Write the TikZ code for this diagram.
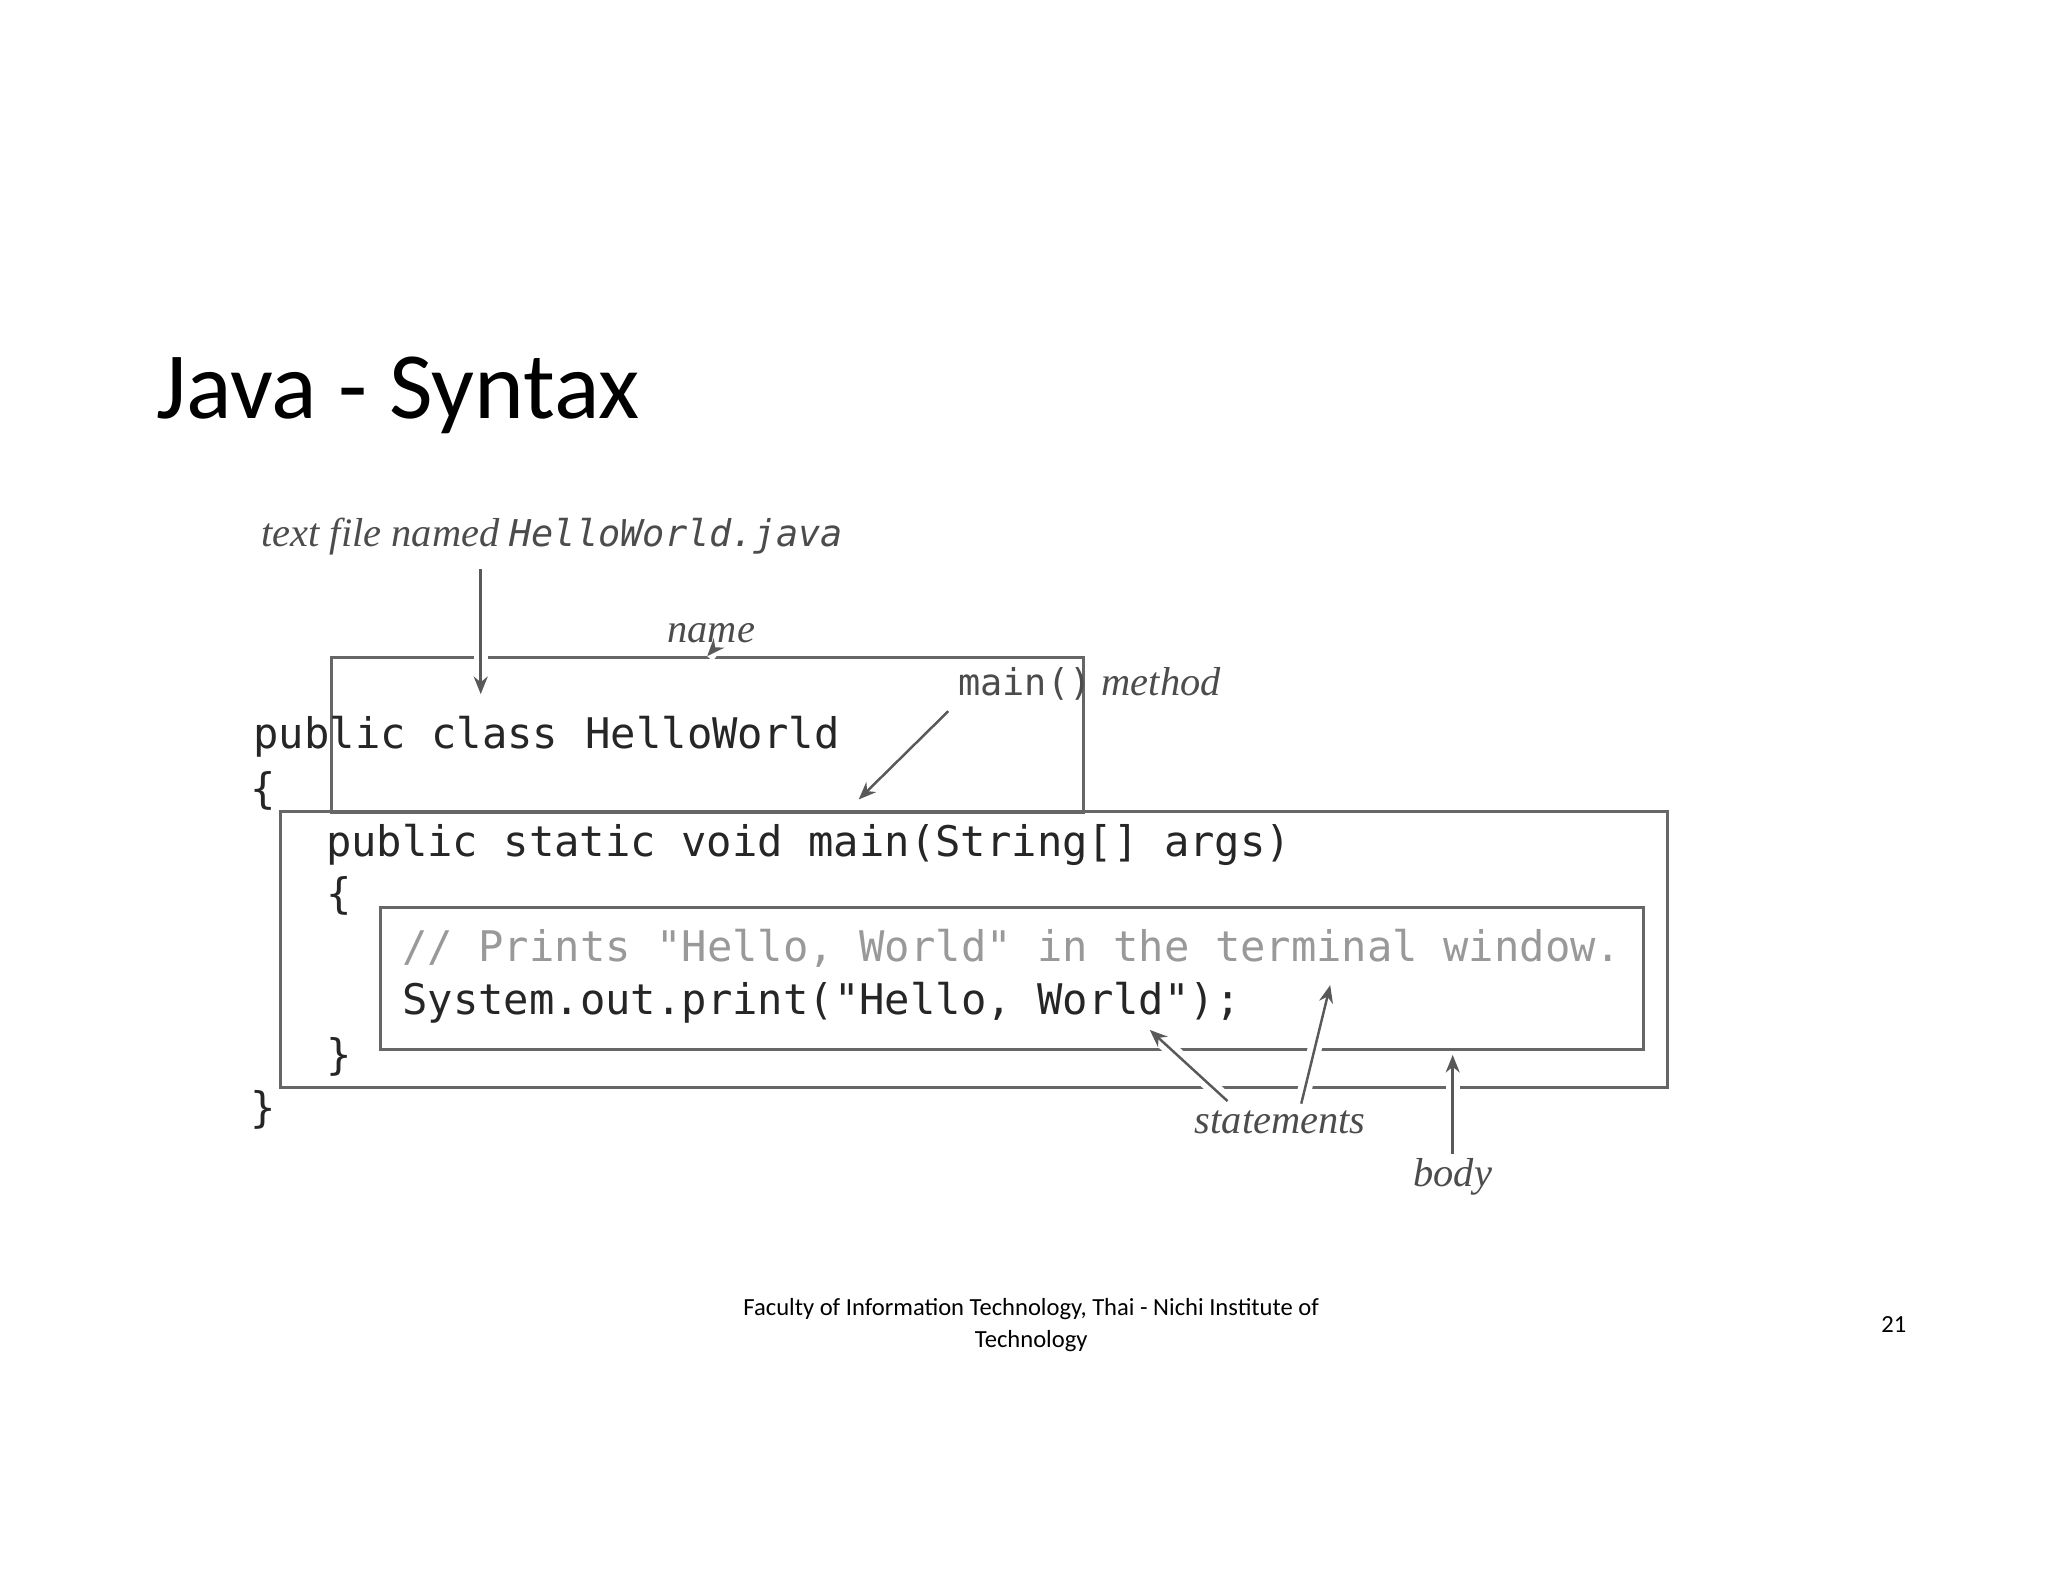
\documentclass[tikz,border=0pt]{standalone}
\usepackage{fontspec}
\setmainfont{Carlito}
\newfontfamily\labelfont{Liberation Serif}
\newfontfamily\codefont{DejaVu Sans Mono}
\usetikzlibrary{arrows.meta}

\begin{document}
\begin{tikzpicture}[x=0.01317cm, y=-0.01317cm,
    code/.style={anchor=base west, inner sep=0pt, font=\codefont\fontsize{12}{14}\selectfont, text=black!85},
    note/.style={anchor=base, inner sep=0pt, font=\labelfont\itshape\fontsize{11.5}{13}\selectfont, text=black!70},
    frame/.style={draw=black!60, line width=0.8pt},
    pointer/.style={-{Stealth[length=5pt,width=4pt]}, draw=black!65, line width=0.7pt,
        preaction={draw=white, line width=4pt, -}}
]
    \useasboundingbox (0,0) rectangle (1555,1201);

    % Title
    \node[anchor=base west, inner sep=0pt, font=\fontsize{27}{30}\selectfont] (title) at (118,318) {Java - Syntax};

    % Frames
    \draw[frame] (213,616) rectangle (1266,826);
    \draw[frame] (289,689) rectangle (1248,797);
    \node[frame, minimum width=214, minimum height=44, inner sep=0pt] (namebox) at (537,558) {};

    % Code
    \node[code] (cls) at (192,568) {public class};
    \node[code] (clsname) at (444,568) {HelloWorld};
    \node[code] (open1) at (190,610) {\{};
    \node[code] (mainsig) at (247,650) {public static void main(String[] args)};
    \node[code] (open2) at (247,690) {\{};
    \node[code, text=black!40] (comment) at (305,730) {// Prints "Hello, World" in the terminal window.};
    \node[code] (stmt) at (305,770) {System.out.print("Hello, World");};
    \node[code] (close2) at (247,812) {\}};
    \node[code] (close1) at (190,852) {\}};

    % Labels
    \node[anchor=base west, inner sep=0pt] (filelbl) at (198,415)
        {\labelfont\itshape\fontsize{11.5}{13}\selectfont\color{black!70}text file named \codefont\fontsize{10.5}{12}\selectfont HelloWorld.java};
    \node[note] (namelbl) at (540,488) {name};
    \node[anchor=base west, inner sep=0pt] (mainlbl) at (727,528)
        {\codefont\fontsize{10.5}{12}\selectfont\color{black!70}main()\labelfont\itshape\fontsize{11.5}{13}\selectfont\ method};
    \node[note] (stmtlbl) at (972,861) {statements};
    \node[note] (bodylbl) at (1103,901) {body};

    % Coordinates for arrow ends
    \coordinate (fileend) at (365,527);
    \coordinate (mainend) at (652,607);
    \coordinate (cmtend) at (1010,748);
    \coordinate (stmtend) at (873,782);
    \coordinate (bodyend) at (1103,801);

    % Arrows
    \draw[pointer] (365,432) -- (fileend);
    \draw[pointer] (namelbl.south) ++(0,6) -- (namebox.north);
    \draw[pointer] (720,540) -- (mainend);
    \draw[pointer] (932,836) -- (stmtend);
    \draw[pointer] (988,838) -- (cmtend);
    \draw[pointer] (1103,876) -- (bodyend);

    % Footer
    \node[align=center, font=\fontsize{7}{9}\selectfont, inner sep=0pt] (footer) at (783,1006)
        {Faculty of Information Technology, Thai - Nichi Institute of\\Technology};
    \node[font=\fontsize{7}{9}\selectfont, inner sep=0pt] (pagenum) at (1438,1006) {21};
\end{tikzpicture}
\end{document}
